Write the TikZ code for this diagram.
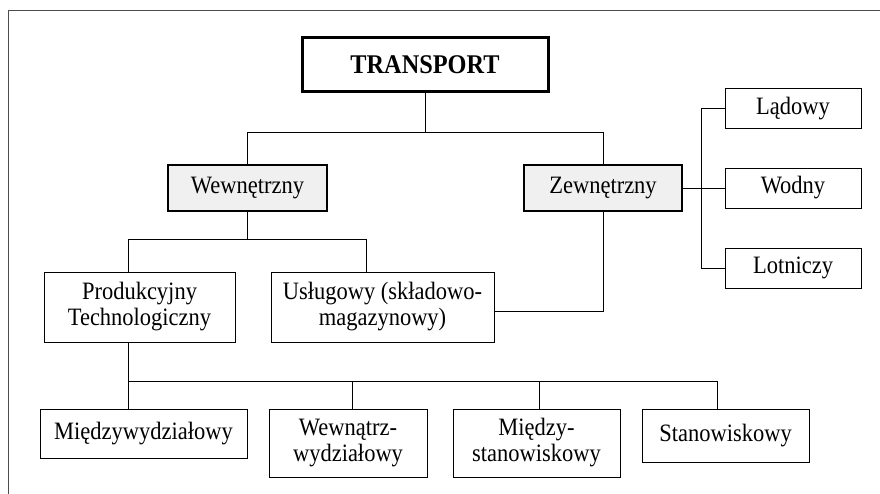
\documentclass[tikz,border=0pt]{standalone}
\usepackage{fontspec}
\setmainfont[FakeStretch=0.9]{Liberation Serif}
\definecolor{boxgray}{RGB}{240,240,240}

\begin{document}
\begin{tikzpicture}[x=1pt, y=1pt]
  \tikzstyle{box}=[draw, rectangle, line width=0.8pt, align=center, inner sep=2pt, font=\fontsize{25}{26}\selectfont]
  \tikzstyle{mainbox}=[box, line width=2.5pt, fill=boxgray]
  \tikzstyle{link}=[line width=0.8pt]

  \useasboundingbox (0, 0) rectangle (880, -494);
  \draw[gray!60!black, line width=0.8pt] (8, -494) -- (8, -10) -- (880, -10);

  \path (425, -65) node[box, line width=3pt, minimum width=246pt, minimum height=54pt, font=\bfseries\fontsize{27}{28}\selectfont] (transport) {TRANSPORT};

  \path (247.5, -188) node[mainbox, minimum width=159pt, minimum height=46pt] (wew) {Wewnętrzny};
  \path (603, -188) node[mainbox, minimum width=158pt, minimum height=46pt] (zew) {Zewnętrzny};

  \foreach \y/\n/\t in {108.5/ladowy/Lądowy, 188/wodny/Wodny, 268/lotniczy/Lotniczy}
  {
    \path (793, -\y) node[box, minimum width=136pt, minimum height=40pt] (\n) {\t};
  }

  \path (139.5, -307) node[box, minimum width=191pt, minimum height=70pt] (prod) {Produkcyjny\\Technologiczny};
  \path (382.5, -307) node[box, minimum width=223pt, minimum height=70pt] (uslug) {Usługowy (składowo-\\magazynowy)};

  \path (143.5, -433.5) node[box, minimum width=207pt, minimum height=49pt] (mw) {Międzywydziałowy};
  \path (348, -443) node[box, minimum width=158pt, minimum height=68pt] (wz) {Wewnątrz-\\wydziałowy};
  \path (536.5, -443) node[box, minimum width=167pt, minimum height=68pt] (ms) {Między-\\stanowiskowy};
  \path (725.5, -435.5) node[box, minimum width=167pt, minimum height=53pt] (st) {Stanowiskowy};

  \path (transport.south) ++(0, -39) coordinate (tsplit);
  \draw[link] (transport.south) -- (tsplit);
  \draw[link] (wew.north) |- (tsplit) -| (zew.north);

  \path ([yshift=-27pt]wew.south) coordinate (wsplit);
  \draw[link] (wew.south) -- (wsplit);
  \draw[link] ([xshift=-11.5pt]prod.north) |- (wsplit) -| ([xshift=-16.5pt]uslug.north);

  \draw[link] (zew.south) |- ([yshift=-4.5pt]uslug.east);
  \draw[link] (zew.east) -- (wodny.west);
  \draw[link] (ladowy.west) -- ++(-23, 0) |- (lotniczy.west);

  \path ([xshift=-11.5pt]prod.south) ++(0, -39) coordinate (psplit);
  \draw[link] ([xshift=-11.5pt]prod.south) -- ([xshift=-15.5pt]mw.north);
  \draw[link] (psplit) -| ([xshift=4pt]wz.north);
  \draw[link] (psplit) -| ([xshift=2.5pt]ms.north);
  \draw[link] (psplit) -| ([xshift=-8.5pt]st.north);
\end{tikzpicture}
\end{document}
